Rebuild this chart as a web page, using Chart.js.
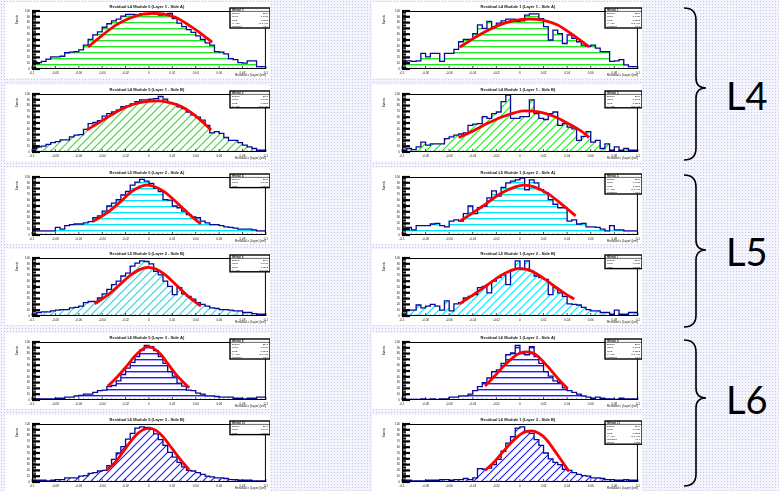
<!DOCTYPE html>
<html><head><meta charset="utf-8">
<script src="https://cdn.jsdelivr.net/npm/chart.js@4.4.0/dist/chart.umd.min.js"></script>
<style>
html,body{margin:0;padding:0;}
body{width:779px;height:491px;position:relative;overflow:hidden;background-color:#f4f4fc;
background-image:radial-gradient(circle,#c4c4e8 0.8px,transparent 1px);background-size:3px 3px;}
.panel{position:absolute;background:#fff;}
.panel canvas{display:block;}
.lbl{position:absolute;font-family:Lato,'Open Sans',sans-serif;font-size:38px;color:#000;line-height:1;}
svg{position:absolute;left:0;top:0;}
</style></head><body>
<svg width="779" height="491" viewBox="0 0 779 491">
 <g fill="none" stroke="#000" stroke-width="1.6">
  <path d="M684,8 Q696,8 696,20 L696,78 Q696,88 706,88 Q696,88 696,98 L696,148 Q696,160 684,160"/>
  <path d="M684,175 Q696,175 696,187 L696,240 Q696,250 706,250 Q696,250 696,260 L696,315 Q696,327 684,327"/>
  <path d="M684,340 Q696,340 696,352 L696,388 Q696,398 706,398 Q696,398 696,408 L696,474 Q696,486 684,486"/>
 </g>
</svg>
<div class="lbl" style="left:726px;top:76px;">L4</div>
<div class="lbl" style="left:726px;top:232px;">L5</div>
<div class="lbl" style="left:726px;top:380px;">L6</div>
<script>
// ---------- data ----------
const xTickLabels = ['-0.1','-0.08','-0.06','-0.04','-0.02','0','0.02','0.04','0.06','0.08','0.1'];
const yTickLabels = ['0','10','20','30','40','50','60','70','80','90','100'];

const valsL4hL = [4,13,11,13,17,21,21,22,28,29,30,33,41,51,59,64,72,78,83,86,91,94,94,93,95,94,96,95,93,94,96,87,79,73,68,63,57,51,45,41,30,29,26,18,16,11,10,14,14,4];
const valsL4hR = [1,13,14,13,14,27,21,27,27,13,27,27,34,47,51,51,61,76,70,82,73,79,83,86,86,82,83,93,95,95,87,73,50,67,61,44,59,53,47,41,39,41,36,30,30,13,14,16,7,4];
const valsL4dL = [3,6,9,10,13,16,18,21,21,26,29,30,39,49,51,54,62,66,69,72,78,79,83,87,90,90,91,92,96,91,85,83,78,75,69,64,60,55,46,33,35,32,25,20,20,16,12,9,6,3];
const valsL4dR = [6,2,6,4,9,17,12,14,14,14,23,26,29,31,33,46,48,49,61,58,66,69,87,98,58,58,61,61,90,66,58,56,66,69,46,49,43,40,20,27,35,17,20,6,14,3,9,3,6,3];
const valsL5hL = [7,7,7,7,7,7,13,10,16,18,19,19,21,23,30,33,41,50,55,61,69,75,86,91,96,93,89,81,75,61,60,50,47,41,35,31,30,24,21,18,18,16,14,13,12,10,10,10,9,7];
const valsL5hR = [10,10,13,9,16,16,16,19,20,16,14,24,26,24,37,50,37,47,50,64,76,67,82,90,93,95,98,78,95,90,78,73,61,53,47,47,24,26,19,20,14,14,13,10,7,16,9,9,7,7];
const valsL5dL = [3,3,6,7,7,9,10,11,11,14,15,17,23,25,25,31,38,46,54,60,69,74,86,91,95,94,90,77,71,60,51,37,49,38,34,29,23,20,17,14,13,11,11,10,9,9,6,6,4,3];
const valsL5dR = [3,3,10,10,19,14,17,20,17,10,26,9,21,23,31,34,37,49,51,40,60,66,71,54,80,95,80,95,77,69,66,63,37,49,40,34,21,20,19,15,11,9,9,6,6,3,10,3,3,6];
const valsL6hL = [2,2,2,2,2,2,3,3,5,5,7,8,10,10,13,16,17,23,25,33,44,55,65,75,86,94,92,85,75,63,49,41,29,24,17,16,12,10,7,7,6,5,5,5,3,3,2,3,3,5];
const valsL6hR = [1,1,1,1,1,2,1,2,1,2,2,5,5,7,7,10,16,23,30,38,49,52,63,78,81,94,81,78,92,75,63,49,41,33,30,21,16,13,10,7,5,3,5,3,2,2,1,3,2,2];
const valsL6dL = [2,2,3,3,2,3,4,4,7,7,7,10,11,15,16,19,20,28,39,50,61,74,84,93,95,94,91,83,73,63,51,43,34,26,20,19,16,13,10,9,7,7,6,4,4,3,3,3,2,2];
const valsL6dR = [3,3,3,2,2,2,3,3,3,4,4,3,4,4,6,4,7,23,22,24,30,39,53,67,78,93,95,87,84,73,63,50,40,34,30,22,20,16,13,11,10,7,7,6,4,4,3,3,4,3];

const fitL4hL = [[12,38],[15,58],[18,76],[21,88],[24,95],[26,96],[28,95],[31,88],[34,73],[36,62],[38.5,46]];
const fitL4hR = [[12.3,38],[15,52],[18,66],[21,77],[24,84],[27,86],[30,84],[33,76],[36,60],[39.7,38]];
const fitL4dL = [[11.7,38],[14,49],[17,64],[20,77],[23,85],[26.5,88],[29,86],[32,78],[35,62],[38.3,38]];
const fitL4dR = [[12,25],[15,36],[18,49],[21,60],[24,68],[26,71],[29,69],[32,62],[35,50],[38,36],[39.7,25]];
const fitL5hL = [[13,23],[16,38],[19,58],[21,73],[23,83],[24.4,86],[26,84],[28,76],[30,63],[32,48],[34,33],[36.1,19]];
const fitL5hR = [[12.3,24],[15,38],[18,55],[21,72],[24,83],[25.8,86],[28,83],[31,71],[34,52],[36.8,33]];
const fitL5dL = [[13.4,21],[16,35],[19,56],[21,70],[23,80],[24.8,84],[26.5,81],[28.5,71],[31,52],[33.5,33],[36.1,17]];
const fitL5dR = [[12.2,21],[15,36],[18,53],[21,70],[23,78],[24.8,82],[27,79],[29.5,68],[32,53],[34.5,39],[36.5,29]];
const fitL6hL = [[16.2,24],[18,38],[20,56],[22,76],[23.5,87],[24.8,92],[26,89],[27.5,79],[29,63],[31,42],[33.6,21]];
const fitL6hR = [[17.6,24],[19.5,40],[21.5,58],[23.5,73],[25,81],[26.5,83],[28,80],[29.5,70],[31.5,52],[33.5,33],[35.1,20]];
const fitL6dL = [[15.9,20],[18,36],[20,58],[22,79],[23.5,89],[25.1,93],[26.5,89],[28,78],[30,57],[32,36],[33.6,21]];
const fitL6dR = [[17.6,20],[19.5,34],[21.5,53],[23.5,71],[25.5,84],[27.3,88],[29,84],[30.5,74],[32,58],[33.8,37],[35.4,18]];

const panelTitles = ['Residual L4 Module 0 (Layer 1 - Side A)','Residual L4 Module 1 (Layer 1 - Side A)',
 'Residual L4 Module 0 (Layer 1 - Side B)','Residual L4 Module 1 (Layer 1 - Side B)',
 'Residual L5 Module 0 (Layer 2 - Side A)','Residual L5 Module 1 (Layer 2 - Side A)',
 'Residual L5 Module 0 (Layer 2 - Side B)','Residual L5 Module 1 (Layer 2 - Side B)',
 'Residual L6 Module 0 (Layer 3 - Side A)','Residual L6 Module 1 (Layer 3 - Side A)',
 'Residual L6 Module 0 (Layer 3 - Side B)','Residual L6 Module 1 (Layer 3 - Side B)'];
const statLineCounts = [5,5,4,4,3,5,4,3,5,5,3,6];
const statNames = ['Entries','Mean','RMS','\u03c7\u00b2 / ndf','Constant','Sigma'];
const statValues = ['2540','0.0011','0.0312','41.2 / 28','61.4','0.021'];

// ---------- layout ----------
const rowTops = [2,85,168,249,333,415];
const colDefs = [{x:5,w:265,yw:27,pr:3,sx:225,sw:40},{x:372,w:270,yw:30,pr:4,sx:233,sw:37}];
const hatchColors = ['#22e622','#22e622','#00e4f4','#00e4f4','#1c1cff','#1c1cff'];
const panels = [
 [valsL4hL,fitL4hL],[valsL4hR,fitL4hR],[valsL4dL,fitL4dL],[valsL4dR,fitL4dR],
 [valsL5hL,fitL5hL],[valsL5hR,fitL5hR],[valsL5dL,fitL5dL],[valsL5dR,fitL5dR],
 [valsL6hL,fitL6hL],[valsL6hR,fitL6hR],[valsL6dL,fitL6dL],[valsL6dR,fitL6dR]];

function makePattern(color, diagonal){
  const c=document.createElement('canvas');
  const ctx=c.getContext('2d');
  if(!diagonal){
    c.width=8;c.height=6;
    ctx.fillStyle='#fff';ctx.fillRect(0,0,8,6);
    ctx.fillStyle=color;ctx.fillRect(0,2,8,1.4);
  } else {
    c.width=8;c.height=8;
    ctx.fillStyle='#fff';ctx.fillRect(0,0,8,8);
    ctx.strokeStyle=color;ctx.lineWidth=1.1;
    ctx.beginPath();
    ctx.moveTo(-1,9);ctx.lineTo(9,-1);
    ctx.moveTo(-1,1);ctx.lineTo(1,-1);
    ctx.moveTo(7,9);ctx.lineTo(9,7);
    ctx.stroke();
  }
  return ctx.createPattern(c,'repeat');
}

const rootPlugin = {
  id:'rootStyle',
  afterDatasetsDraw(chart){
    const {ctx, chartArea:a, scales:{x,y}} = chart;
    ctx.save();
    ctx.strokeStyle='#000';
    for(let v=0; v<=100; v+=2.5){
      const py=y.getPixelForValue(v); const major=(v%10===0);
      ctx.lineWidth=major?2.2:1;
      ctx.beginPath();ctx.moveTo(a.left,py);ctx.lineTo(a.left+(major?8:4),py);ctx.stroke();
    }
    ctx.lineWidth=0.7;
    for(let b=0;b<=50;b++){
      const px=x.getPixelForValue(b); const major=(b%5===0);
      ctx.beginPath();ctx.moveTo(px,a.bottom);ctx.lineTo(px,a.bottom-(major?3:1.5));ctx.stroke();
    }
    ctx.lineWidth=1;
    ctx.strokeRect(a.left+0.5,a.top+0.5,a.width-1,a.height-1);
    ctx.restore();
  },
  afterDraw(chart, args, o){
    const {ctx, chartArea:a} = chart;
    ctx.save();
    ctx.fillStyle='#111';
    ctx.textAlign='center';ctx.textBaseline='middle';
    ctx.font='bold 4px "Liberation Sans"';
    ctx.fillText(o.title, (a.left+a.right)/2-2, 4.5);
    ctx.save();ctx.translate(12,a.top+4);ctx.rotate(-Math.PI/2);
    ctx.textAlign='right';ctx.font='3px "Liberation Sans"';ctx.fillText('Events',0,0);ctx.restore();
    ctx.textAlign='right';ctx.font='3px "Liberation Sans"';
    ctx.fillText('Residual x (Layer) [cm]', a.right, a.bottom+6.5);
    const n=o.lines; const bx=o.sx, bw=o.sw, by=a.top-3, bh=4+n*3.2;
    ctx.fillStyle='#fff';ctx.fillRect(bx,by,bw,bh);
    ctx.strokeStyle='#000';ctx.lineWidth=1.4;ctx.strokeRect(bx,by,bw,bh);
    ctx.lineWidth=0.6;ctx.beginPath();ctx.moveTo(bx,by+3.4);ctx.lineTo(bx+bw,by+3.4);ctx.stroke();
    ctx.fillStyle='#000';ctx.font='bold 2.6px "Liberation Sans"';ctx.textAlign='left';
    ctx.fillText('hResid_'+o.idx, bx+2, by+1.8);
    ctx.font='2.4px "Liberation Sans"';
    for(let i=0;i<n;i++){
      ctx.textAlign='left';ctx.fillText(statNames[i], bx+2, by+5.5+i*3.2);
      ctx.textAlign='right';ctx.fillText(statValues[i], bx+bw-2, by+5.5+i*3.2);
    }
    ctx.restore();
  }
};

panels.forEach(([vals,fit],k)=>{
  const row=Math.floor(k/2), col=k%2, cd=colDefs[col];
  const div=document.createElement('div');div.className='panel';
  div.style.left=cd.x+'px';div.style.top=rowTops[row]+'px';
  div.style.width=cd.w+'px';div.style.height='76px';
  const cv=document.createElement('canvas');cv.width=cd.w;cv.height=76;
  div.appendChild(cv);document.body.appendChild(div);
  const hist=[{x:0,y:0}];
  vals.forEach((v,i)=>hist.push({x:i,y:v}));
  hist.push({x:vals.length,y:vals[vals.length-1]});
  hist.push({x:vals.length,y:0});
  const fitPts=fit.map(p=>({x:p[0],y:p[1]}));
  const diagonal=(row%2===1);
  new Chart(cv,{
    type:'line',
    data:{datasets:[
      {data:fitPts,borderColor:'#ff0000',borderWidth:2.8,pointRadius:0,cubicInterpolationMode:'monotone',fill:false},
      {data:hist,stepped:'after',borderColor:'#08089a',borderWidth:1.3,pointRadius:0,
       fill:'origin',backgroundColor:makePattern(hatchColors[row],diagonal)}
    ]},
    plugins:[rootPlugin],
    options:{
      responsive:false,animation:false,events:[],
      layout:{padding:{top:9,right:cd.pr,left:0,bottom:0}},
      plugins:{legend:{display:false},tooltip:{enabled:false},title:{display:false},
        rootStyle:{title:panelTitles[k],lines:statLineCounts[k],sx:cd.sx,sw:cd.sw,idx:k}},
      scales:{
        x:{type:'linear',min:0,max:50,grid:{display:false,drawTicks:false},border:{display:false},
           ticks:{stepSize:5,autoSkip:false,maxRotation:0,padding:2,font:{size:3,family:'Liberation Sans'},color:'#222',
             callback:(v)=>xTickLabels[Math.round(v/5)]},
           afterFit:s=>{s.height=9;}},
        y:{type:'linear',min:0,max:100,grid:{display:false,drawTicks:false},border:{display:false},
           ticks:{stepSize:10,autoSkip:false,padding:2,font:{size:3,family:'Liberation Sans'},color:'#222',
             callback:(v)=>yTickLabels[Math.round(v/10)]},
           afterFit:s=>{s.width=cd.yw;}}
      }
    }
  });
});
</script>
</body></html>
